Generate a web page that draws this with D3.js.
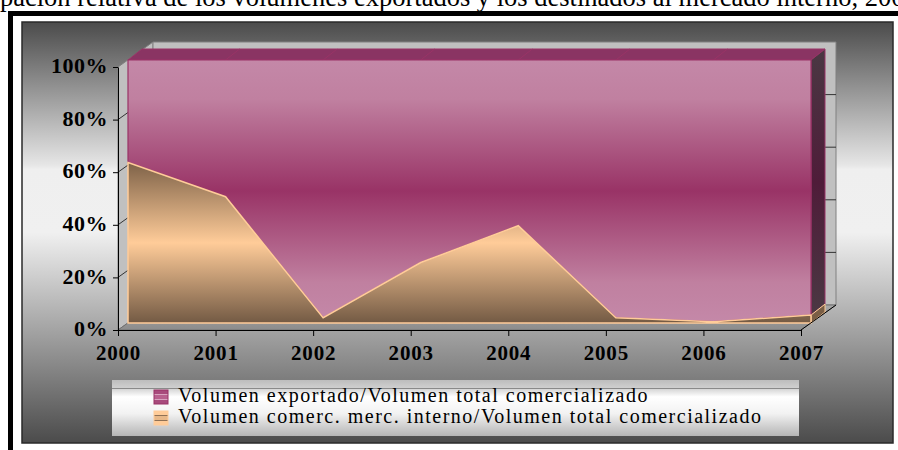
<!DOCTYPE html>
<html>
<head>
<meta charset="utf-8">
<script src="https://cdn.jsdelivr.net/npm/d3@7"></script>
<style>
    body { margin: 0; background: #fff; }
    svg { display: block; }
    .tick text { font-family: "Liberation Serif", serif; font-weight: bold; fill: #000; }
</style>
</head>
<body>
<div id="chart"></div>
<script>
// datos (porcentaje del volumen total comercializado)
const years = ['2000', '2001', '2002', '2003', '2004', '2005', '2006', '2007'];
const interno = [61, 48, 2, 23, 37, 2, 0.5, 3];
const exportado = [39, 52, 98, 77, 63, 98, 99.5, 97];
const yTicks = [0, 20, 40, 60, 80, 100];
const seriesNames = [
    'Volumen exportado/Volumen total comercializado',
    'Volumen comerc. merc. interno/Volumen total comercializado'
];
const title = 'Participación relativa de los volúmenes exportados y los destinados al mercado interno, 2000-2007';

const width = 898;
const height = 450;

const svg = d3.select('#chart')
    .append('svg')
    .attr('width', width)
    .attr('height', height);

const defs = svg.append('defs');

function vGradient(id, stops) {
    const g = defs.append('linearGradient')
        .attr('id', id)
        .attr('x1', 0).attr('y1', 0).attr('x2', 0).attr('y2', 1);
    stops.forEach(s => g.append('stop').attr('offset', s[0]).attr('stop-color', s[1]));
}

vGradient('bg', [[0, '#4b4b4b'], [0.34, '#e6e6e6'], [0.35, '#efefef'], [0.5, '#f0f0f0'], [1, '#4b4b4b']]);
vGradient('pink', [[0, '#c488a8'], [0.15, '#c080a0'], [0.5, '#993366'], [0.85, '#c080a0'], [1, '#c488a8']]);
vGradient('tan', [[0, '#7e6248'], [0.5, '#ffcc99'], [1, '#735a44']]);
vGradient('pinkSide', [[0, '#4a3843'], [0.5, '#4f1c39'], [1, '#4a3843']]);
vGradient('floor', [[0, '#a8a8a8'], [1, '#8c8c8c']]);
vGradient('legendBg', [[0, '#bdbdbd'], [0.14, '#cfcfcf'], [0.3, '#ffffff'], [0.6, '#f2f2f2'], [1, '#b5b5b5']]);
vGradient('swPink', [[0, '#a84a7c'], [0.3, '#a84a7c'], [0.3, '#d9a3bf'], [0.38, '#d9a3bf'], [0.38, '#b8608e'],
    [0.62, '#b8608e'], [0.62, '#d9a3bf'], [0.7, '#d9a3bf'], [0.7, '#a84a7c'], [1, '#a84a7c']]);
vGradient('swTan', [[0, '#ffcc99'], [0.3, '#ffcc99'], [0.3, '#8f7155'], [0.38, '#8f7155'], [0.38, '#e8b888'],
    [0.62, '#e8b888'], [0.62, '#8f7155'], [0.7, '#8f7155'], [0.7, '#ffcc99'], [1, '#ffcc99']]);

// título (cortado arriba en la imagen original)
const titleText = svg.append('text')
    .attr('y', 6)
    .style('font-family', '"Liberation Serif", serif')
    .style('font-size', '26.5px')
    .text(title);
titleText.attr('x', -titleText.node().getSubStringLength(0, 7));

// marco negro exterior
svg.append('path')
    .attr('d', `M10.5,${height + 5} V13.5 H${width + 5}`)
    .attr('fill', 'none')
    .attr('stroke', '#000')
    .attr('stroke-width', 5);

// área del gráfico
svg.append('rect')
    .attr('x', 22).attr('y', 22)
    .attr('width', 871).attr('height', 421)
    .attr('fill', 'url(#bg)')
    .attr('stroke', '#2a2a2a')
    .attr('stroke-width', 1.5);

// escalas (plano frontal) y desplazamientos de profundidad
const x = d3.scalePoint().domain(years).range([118, 801]);
const y = d3.scaleLinear().domain([0, 100]).range([330, 67]);
const back = [35, -25];   // pared del fondo
const s1 = [10, -7];      // cara frontal de la serie
const s2 = [24, -18];     // cara trasera de la serie

const x0 = x.range()[0], x1 = x.range()[1];
const yb = y(0), yt = y(100);

const pts = arr => arr.map(p => p.join(',')).join(' ');

// paredes
svg.append('polygon')
    .attr('points', pts([[x0, yt], [x0 + back[0], yt + back[1]], [x0 + back[0], yb + back[1]], [x0, yb]]))
    .attr('fill', '#c0c0c0').attr('stroke', '#808080');
svg.append('polygon')
    .attr('points', pts([[x0 + back[0], yt + back[1]], [x1 + back[0], yt + back[1]], [x1 + back[0], yb + back[1]], [x0 + back[0], yb + back[1]]]))
    .attr('fill', '#c0c0c0').attr('stroke', '#808080');

// líneas de división en paredes
svg.append('g')
    .selectAll('path')
    .data(yTicks.slice(1, -1))
    .enter()
    .append('path')
    .attr('d', d => `M${x0},${y(d)} L${x0 + back[0]},${y(d) + back[1]} H${x1 + back[0]}`)
    .attr('fill', 'none')
    .attr('stroke', '#333')
    .attr('stroke-width', 1);

// piso
svg.append('polygon')
    .attr('points', pts([[x0, yb], [x1, yb], [x1 + back[0], yb + back[1]], [x0 + back[0], yb + back[1]]]))
    .attr('fill', 'url(#floor)').attr('stroke', '#707070');

// serie 3D: cara superior y lateral derecha
const last = years.length - 1;
svg.append('polygon')
    .attr('points', pts([[x0 + s1[0], yt + s1[1]], [x1 + s1[0], yt + s1[1]], [x1 + s2[0], yt + s2[1]], [x0 + s2[0], yt + s2[1]]]))
    .attr('fill', '#8a3463').attr('stroke', '#993366');
svg.append('g')
    .selectAll('line')
    .data(years.slice(1, -1))
    .enter()
    .append('line')
    .attr('x1', d => x(d) + s1[0]).attr('y1', yt + s1[1])
    .attr('x2', d => x(d) + s2[0]).attr('y2', yt + s2[1])
    .attr('stroke', '#993366');

const yMid = y(interno[last]);
svg.append('polygon')
    .attr('points', pts([[x1 + s1[0], yt + s1[1]], [x1 + s2[0], yt + s2[1]], [x1 + s2[0], yMid + s2[1]], [x1 + s1[0], yMid + s1[1]]]))
    .attr('fill', 'url(#pinkSide)').attr('stroke', '#993366');
svg.append('polygon')
    .attr('points', pts([[x1 + s1[0], yMid + s1[1]], [x1 + s2[0], yMid + s2[1]], [x1 + s2[0], yb + s2[1]], [x1 + s1[0], yb + s1[1]]]))
    .attr('fill', '#7a5e45').attr('stroke', '#ffcc99');

// caras frontales (100% apilado)
const front = svg.append('g').attr('transform', `translate(${s1[0]},${s1[1]})`);

const areaExp = d3.area()
    .x((d, i) => x(years[i]))
    .y0((d, i) => y(interno[i]))
    .y1((d, i) => y(interno[i] + d));
const areaInt = d3.area()
    .x((d, i) => x(years[i]))
    .y0(y(0))
    .y1(d => y(d));

front.append('path')
    .datum(exportado)
    .attr('d', areaExp)
    .attr('fill', 'url(#pink)')
    .attr('stroke', '#993366')
    .attr('stroke-width', 1.2);
front.append('path')
    .datum(interno)
    .attr('d', areaInt)
    .attr('fill', 'url(#tan)')
    .attr('stroke', '#ffcc99')
    .attr('stroke-width', 1.5);

// ejes
const yAxis = svg.append('g')
    .attr('transform', `translate(${x0},0)`)
    .call(d3.axisLeft(y).tickValues(yTicks).tickFormat(d => d + '%').tickSize(5).tickSizeOuter(0).tickPadding(5));
yAxis.selectAll('text').style('font-size', '22px').attr('dy', '0.26em').style('letter-spacing', '0.5px');
yAxis.selectAll('line, path').attr('stroke', '#000');

const xAxis = svg.append('g')
    .attr('transform', `translate(0,${yb})`)
    .call(d3.axisBottom(x).tickSize(6).tickSizeOuter(0).tickPadding(9));
xAxis.selectAll('text').style('font-size', '21px').style('letter-spacing', '0.8px');
xAxis.selectAll('line, path').attr('stroke', '#000');

// borde derecho del piso
svg.append('line')
    .attr('x1', x1).attr('y1', yb)
    .attr('x2', x1 + back[0]).attr('y2', yb + back[1])
    .attr('stroke', '#000');

// leyenda
const legend = svg.append('g').attr('transform', 'translate(112,380)');
legend.append('rect')
    .attr('width', 687).attr('height', 56)
    .attr('fill', 'url(#legendBg)');
legend.append('line')
    .attr('x1', 0).attr('x2', 687).attr('y1', 8.5).attr('y2', 8.5)
    .attr('stroke', '#8a8a8a');

const swatchFill = ['url(#swPink)', 'url(#swTan)'];
const swatchStroke = ['#993366', '#ffcc99'];

const items = legend.selectAll('.item')
    .data(seriesNames)
    .enter()
    .append('g')
    .attr('class', 'item')
    .attr('transform', (d, i) => `translate(0,${i * 21})`);
items.append('rect')
    .attr('x', 42).attr('y', 10)
    .attr('width', 14).attr('height', 14)
    .attr('fill', (d, i) => swatchFill[i])
    .attr('stroke', (d, i) => swatchStroke[i]);
items.append('text')
    .attr('x', 66).attr('y', 22)
    .style('font-family', '"Liberation Serif", serif')
    .style('font-size', '20px')
    .style('letter-spacing', '1.5px')
    .text(d => d);
</script>
</body>
</html>
